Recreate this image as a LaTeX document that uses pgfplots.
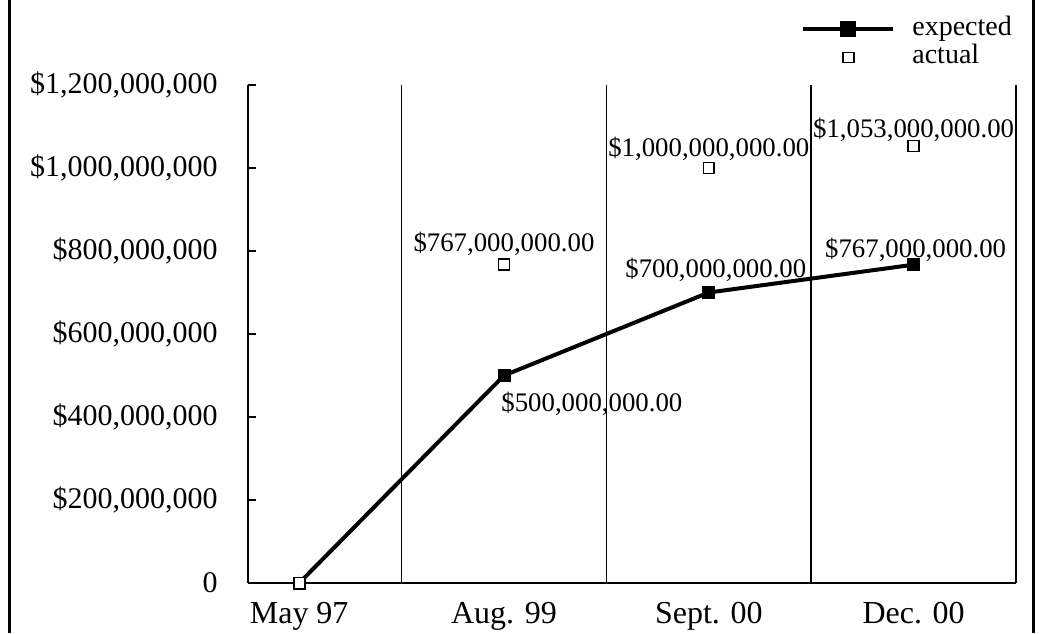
\documentclass[border=0pt]{standalone}
\usepackage{fontspec}
\setmainfont{Liberation Serif}
\usepackage{pgfplots}
\pgfplotsset{compat=1.18}
\pgfplotstableread{
x y
0 0
1 500
2 700
3 767
}\expected
\pgfplotstableread{
x y
0 0
1 767
2 1000
3 1053
}\actual
\begin{document}
\fontsize{13.4}{15}\selectfont
\begin{tikzpicture}
\useasboundingbox (-124pt,-25pt) rectangle (401pt,291.5pt);
\draw[line width=1.5pt] (-119pt,-25pt) -- (-119pt,291.5pt);
\draw[line width=1.5pt] (392.5pt,-25pt) -- (392.5pt,291.5pt);
\begin{axis}[
  at={(0,0)}, anchor=south west,
  scale only axis, width=384pt, height=249pt,
  xmin=-0.25, xmax=3.5, ymin=0, ymax=1200,
  axis x line*=bottom, axis y line*=left,
  axis line style={line width=1pt, -},
  xtick={0,1,2,3},
  xticklabels={May 97, Aug. 99, Sept. 00, Dec. 00},
  major x tick style={draw=none},
  minor xtick={0.5,1.5,2.5,3.5},
  minor x tick style={draw=none},
  xminorgrids=true,
  minor grid style={black, line width=0.9pt},
  ytick={0,200,400,600,800,1000,1200},
  yticklabels={0,{\$200,000,000},{\$400,000,000},{\$600,000,000},{\$800,000,000},{\$1,000,000,000},{\$1,200,000,000}},
  tick align=inside,
  major tick length=4pt,
  y tick style={black, line width=0.9pt},
  yticklabel style={xshift=-10.5pt, font=\fontsize{15}{17}\selectfont},
  xticklabel style={yshift=-5pt, font=\fontsize{16}{18}\selectfont},
  /pgf/number format/assume math mode=true,
  clip=false,
  legend style={at={(0.720,1.1406)}, anchor=north west, draw=none, fill=none,
    inner sep=0pt, row sep=0pt,
    nodes={inner xsep=2pt, inner ysep=0pt, text height=10pt, text depth=4pt},
    font=\fontsize{14}{16}\selectfont},
  legend cell align=left,
]
\addplot[black, line width=2pt, mark=square*, mark size=3pt,
  mark options={solid, line width=0.5pt},
  legend image code/.code={
    \draw[line width=2pt] (0pt,0pt) -- (45pt,0pt);
    \fill (19.5pt,-3pt) rectangle (25.5pt,3pt);}
  ] table[x=x,y=y]{\expected};
\addlegendentry{\hspace{6.5pt}expected}
\addplot[only marks, black, mark=square*, mark size=2.7pt,
  mark options={fill=white, draw=black, line width=0.8pt},
  legend image code/.code={
    \draw[fill=white, line width=0.8pt] (19.8pt,-2.5pt) rectangle (25.2pt,2.5pt);}
  ] table[x=x,y=y]{\actual};
\addlegendentry{\hspace{6.5pt}actual}
% value labels
\node[anchor=base] at ([yshift=6.5pt]axis cs:1,767) {\$767,000,000.00};
\node[anchor=base] at ([yshift=5.5pt]axis cs:2,1000) {\$1,000,000,000.00};
\node[anchor=base] at ([yshift=4.5pt]axis cs:3,1053) {\$1,053,000,000.00};
\node[anchor=base] at ([xshift=3.5pt,yshift=7.5pt]axis cs:2,700) {\$700,000,000.00};
\node[anchor=base] at ([xshift=1pt,yshift=3.5pt]axis cs:3,767) {\$767,000,000.00};
\node[anchor=base west, inner sep=0pt] at ([xshift=-1.5pt,yshift=-18pt]axis cs:1,500) {\$500,000,000.00};
\end{axis}
\end{tikzpicture}
\end{document}
